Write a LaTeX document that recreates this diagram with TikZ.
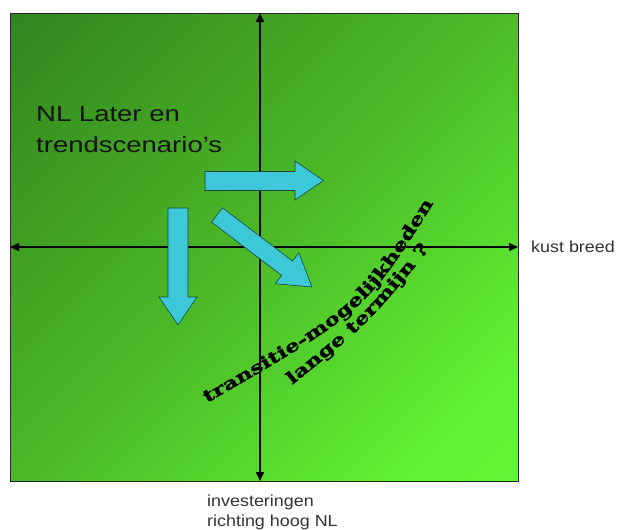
\documentclass[tikz,border=0pt]{standalone}
\usepackage{fontspec}
\setmainfont{Liberation Sans}
\newfontfamily\bigfont{Liberation Sans}[FakeStretch=1.25]
\newfontfamily\labelfont{Liberation Sans}[FakeStretch=1.12]
\newfontfamily\decofont{DejaVu Serif}[FakeStretch=1.34, FakeBold=1.5]
\usetikzlibrary{arrows.meta,decorations.text}
\definecolor{gtop}{RGB}{40,112,26}
\definecolor{gmid}{RGB}{76,186,40}
\definecolor{gbot}{RGB}{96,244,50}
\definecolor{gend}{RGB}{99,249,52}
\pgfdeclarehorizontalshading{panelshade}{100bp}{color(0bp)=(gtop); color(50bp)=(gmid); color(78bp)=(gbot); color(100bp)=(gend)}
\definecolor{cyanfill}{RGB}{60,200,214}
\definecolor{arrowedge}{RGB}{25,70,60}
\tikzset{
  blockarrow/.style={fill=cyanfill, draw=arrowedge, line width=0.6pt, line join=miter},
  axisline/.style={line width=1.6pt, black,
    {Triangle[length=9pt,width=8pt]}-{Triangle[length=9pt,width=8pt]}},
  plainlabel/.style={inner sep=0pt, text=black!80, font=\labelfont\fontsize{16}{20}\selectfont},
  decotext/.style={decorate, decoration={text along path, text align=left,
    text={|\decofont\bfseries\fontsize{17}{17}\selectfont|#1}}},
}
\begin{document}
\begin{tikzpicture}[x=1pt,y=-1pt]
\useasboundingbox (0,0) rectangle (619,530);
% panel
\shade[shading=panelshade, shading angle=-45] (10,13) rectangle (518,481);
\draw[line width=0.8pt, black!85] (10,13) rectangle (518,481);
% axes
\coordinate (ytop) at (260,13);
\coordinate (ybot) at (260,481);
\coordinate (xleft) at (10,247);
\coordinate (xright) at (518,247);
\draw[axisline] (ybot) -- (ytop);
\draw[axisline] (xleft) -- (xright);
% block arrows
\draw[blockarrow] (205,171.5) -- (295,171.5) -- (295,161) -- (323.5,180.5) -- (295,200) -- (295,190.5) -- (205,190.5) -- cycle;
\draw[blockarrow] (168,208) -- (188,208) -- (188,297) -- (197,297) -- (178,325) -- (159,297) -- (168,297) -- cycle;
\draw[blockarrow] (211.6,222.2) -- (222.4,207.8) -- (292.5,261.0) -- (298.9,252.7) -- (312,287) -- (275.3,283.7) -- (281.7,275.4) -- cycle;
% texts
\node[anchor=north west, inner sep=0pt, align=left, text=black!92,
      font=\bigfont\fontsize{22}{31.6}\selectfont] (nl) at (36,106) {NL Later en\\trendscenario’s};
\node[plainlabel, anchor=base west] (kust) at (531,252) {kust breed};
\node[plainlabel, anchor=north west, align=left] (inv) at (207,495) {investeringen\\richting hoog NL};
% curved text
\path[decotext={transitie-mogelijkheden}] (207,403) .. controls (366,311) .. (438,196);
\path[decotext={lange termijn ?}] (292,385) .. controls (369,323) .. (436,241);
\end{tikzpicture}
\end{document}
